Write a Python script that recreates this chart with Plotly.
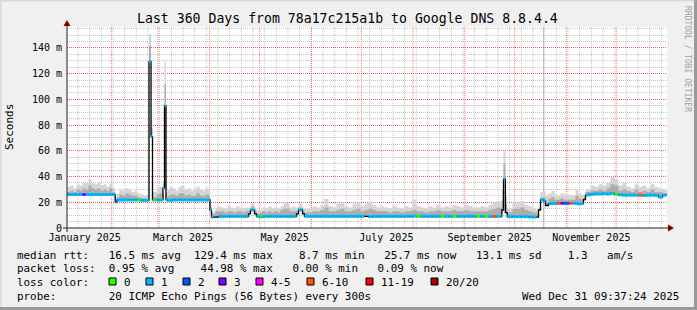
import plotly.graph_objects as go
import pandas as pd

# ---------------- data ----------------
START = "2025-01-05 09:37:24"
END = "2025-12-31 09:37:24"
Y_MAX = 156.3

# sample time in days since 2025-01-01 00:00
day = [4.4, 6.5, 8.3, 10.1, 11.9, 13.7, 15.5, 17.3, 19.1, 20.9, 22.7, 24.5, 26.3, 28.1, 29.9, 31.7,
       33.3, 34.5, 35.9, 37.7, 39.5, 41.3, 43.1, 44.9, 46.7, 48.5, 50.3, 52.1,
       53.6, 54.8, 55.7,
       56.3, 58.1, 59.9,
       62.0, 62.9, 63.8,
       64.7, 66.2, 67.7, 69.5, 71.3, 73.1, 74.9, 76.7, 78.5, 80.3, 82.1, 83.9, 85.7, 87.5, 89.3,
       90.2, 91.1,
       92.3, 93.5, 95.3, 97.1, 98.9, 100.7, 102.5, 104.3, 106.1, 107.9, 109.7, 111.5,
       113.3, 114.5, 115.7, 116.9, 118.1,
       119.9, 121.7, 123.5, 125.3, 127.1, 128.9, 130.7, 132.5, 134.3, 136.1, 137.9, 139.7, 141.0,
       142.1, 143.3, 144.5, 145.7, 146.9,
       149.3, 151.7, 154.1, 156.5, 158.9, 161.3, 163.7, 166.1, 168.5, 170.9, 173.3, 175.7, 178.1,
       180.5, 182.9, 185.3, 187.7, 190.1, 192.5, 194.9, 197.3, 199.7, 202.1, 204.5, 206.9, 209.3,
       211.7, 214.1, 216.5, 218.9, 221.3, 223.7, 226.1, 228.5, 230.9, 233.3, 235.7, 238.1, 240.5,
       242.9, 245.3, 247.7, 250.1, 252.5, 254.9, 257.3, 259.7, 262.1, 264.5,
       265.3, 266.3, 267.4,
       268.5, 271.7, 274.1, 276.5, 278.9, 281.3, 283.7, 286.1,
       287.3, 288.5, 290.3, 291.5,
       293.3, 295.1, 296.9, 298.7, 300.5, 302.3, 304.1, 305.9, 307.7, 309.5, 311.3, 313.1,
       314.3, 315.5,
       316.7, 318.5, 320.9, 323.3, 325.7, 328.1, 330.5, 332.9, 335.3, 337.7, 340.1, 342.5, 344.9,
       347.3, 349.7, 352.1, 354.5, 356.9, 359.3, 361.7, 364.1]

median_ms = [26, 26, 26, 26, 26, 26, 26, 26, 26, 26, 26, 26, 26, 26, 26, 26,
             20.5, 21.8, 21.8, 21.8, 21.8, 21.8, 21.8, 21.8, 21.8, 21.5, 21.5, 21.5,
             129.4, 71, 21.8,
             21.8, 21.8, 21.8,
             31, 95, 21.8,
             21.5, 21.5, 21.8, 21.8, 22, 21.8, 21.8, 21.8, 21.8, 21.8, 21.8, 21.8, 21.8, 21.8, 21.8,
             14, 8.5,
             8.5, 8.5, 9, 9, 9, 9, 9, 9, 9, 9, 9, 9,
             11, 14, 14, 11, 9,
             8.5, 9, 9, 9, 9, 9, 9, 9, 9, 9, 9, 9, 9,
             11, 14, 14, 11, 9,
             9, 9, 9, 9, 9, 9, 9, 9, 9, 9, 9, 9, 9,
             9, 9, 8.8, 9, 9, 9, 9, 9, 9, 9, 9, 9, 9,
             9.3, 9, 9, 9, 9, 9, 9, 9, 9, 9, 9, 9, 9,
             9, 9, 9, 9, 9, 9, 9, 9, 9, 9,
             14, 38, 12,
             8.8, 8.8, 8.8, 8.8, 8.8, 8.6, 8.5, 8.5,
             14, 21.8, 21, 17.5,
             19, 19, 19, 19.2, 19.2, 19.2, 19.2, 19.2, 19.2, 19, 18.8, 19,
             22, 25.5,
             25.8, 26.2, 26.5, 26.5, 26.8, 26.5, 27, 26.2, 25.8, 25.5, 25.5, 25.5, 25.5,
             25.5, 25.3, 25.5, 25.5, 25.3, 24.0, 25.5, 25.7]

smoke_mid_ms = [28, 29, 28, 30, 29, 31, 30, 33, 31, 30, 31, 29, 30, 29, 31, 28,
                22, 24, 26, 25, 27, 26, 25, 25, 24, 23, 23, 23,
                142, 78, 24,
                24, 26, 27,
                33, 112, 24,
                25, 26, 26, 25, 27, 27, 25, 26, 25, 25, 27, 25, 25, 26, 25,
                16, 10,
                11, 13, 13, 13, 12, 13, 13, 12, 13, 13, 12, 13,
                13, 16, 17, 13, 11,
                12, 13, 12, 13, 12, 13, 12, 14, 15, 15, 13, 13, 13,
                13, 16, 16, 13, 12,
                12, 13, 13, 14, 16, 13, 13, 14, 15, 13, 13, 14, 15,
                13, 14, 15, 14, 13, 13, 13, 12, 13, 13, 12, 13, 13,
                14, 13, 13, 12, 13, 13, 14, 13, 13, 13, 14, 13, 13,
                14, 13, 13, 13, 13, 13, 14, 15, 16, 15,
                22, 50, 18,
                12, 15, 15, 16, 14, 13, 12, 11,
                15, 24, 24, 20,
                23, 24, 22, 22, 23, 22, 22, 22, 22, 25, 23, 22,
                24, 28,
                28, 29, 29, 30, 29, 31, 34, 33, 29, 30, 29, 28, 30,
                28, 29, 28, 30, 28, 28, 27, 27]

smoke_hi_ms = [32, 33, 31, 34, 33, 36, 35, 38, 35, 34, 36, 33, 34, 32, 35, 31,
               24, 27, 30, 29, 31, 30, 28, 29, 27, 26, 25, 25,
               151, 84, 28,
               28, 31, 32,
               35, 130, 28,
               30, 32, 31, 29, 32, 33, 30, 31, 29, 30, 32, 30, 29, 31, 30,
               18, 12,
               13, 16, 17, 16, 15, 17, 16, 15, 17, 16, 15, 16,
               16, 19, 19, 16, 14,
               14, 16, 15, 17, 15, 16, 15, 17, 20, 19, 16, 17, 16,
               16, 19, 19, 16, 15,
               15, 17, 16, 18, 23, 17, 16, 19, 20, 17, 16, 19, 20,
               17, 19, 20, 18, 16, 17, 16, 15, 17, 16, 15, 17, 16,
               22, 17, 16, 15, 17, 16, 18, 16, 17, 16, 18, 17, 16,
               18, 17, 16, 16, 17, 16, 18, 20, 21, 19,
               30, 60, 25,
               15, 20, 19, 21, 18, 17, 15, 14,
               16, 28, 28, 25,
               27, 29, 26, 25, 27, 26, 25, 26, 25, 30, 27, 25,
               26, 30,
               30, 33, 32, 34, 33, 35, 40, 38, 33, 35, 32, 31, 34,
               32, 33, 31, 34, 32, 31, 30, 29]

# loss class per sample (-1 = no coloured median drawn)
loss_class = [1, 1, 1, 1, 1, 3, 1, 1, 1, 1, 1, 1, 1, 1, 1, 1,
              2, 1, 1, 1, 1, 1, 1, 1, 0, 1, 1, 1,
              1, 1, 1,
              0, 1, 1,
              1, 1, 1,
              1, 1, 1, 1, 1, 1, 1, 1, 1, 1, 1, 1, 1, 1, 1,
              1, 1,
              -1, -1, 1, 1, 1, 1, 1, 1, 1, 1, 1, 1,
              -1, 1, 1, -1, 1,
              0, 1, 1, 1, 1, 1, 1, 1, 1, 1, 1, 1, 1,
              -1, 1, 1, -1, 1,
              1, 1, 1, 1, 1, 1, 1, 1, 1, 1, 1, 1, 1,
              1, -1, 1, 1, 1, 1, 1, 1, 1, 1, 1, 1, 1,
              1, 0, 1, 1, 1, 1, 1, 0, 1, 1, 0, 1, 1,
              1, 1, 1, 0, 1, 0, 1, 10, 1, 1,
              -1, 1, -1,
              1, 1, 1, 1, 1, 1, 1, -1,
              -1, 1, 1, -1,
              1, 1, 1, 10, 3, 2, 2, 10, 1, 1, 1, 1,
              -1, 1,
              1, 1, 1, 1, 1, 1, 1, 0, 1, 1, 1, 1, 1,
              10, 1, 1, 1, 1, 1, 1, 1]

LOSS_KEYS = [0, 1, 2, 3, 5, 10, 19, 20]
LOSS_LABELS = ["0", "1", "2", "3", "4-5", "6-10", "11-19", "20/20"]
LOSS_COLORS = ["#26ff00", "#00b8ff", "#0059ff", "#7e00ff", "#ff00ff", "#ff5500", "#ff0000", "#a10000"]

month_starts = ["2025-02-01", "2025-03-01", "2025-04-01", "2025-05-01", "2025-06-01", "2025-07-01",
                "2025-08-01", "2025-09-01", "2025-10-01", "2025-11-01", "2025-12-01"]
first_week_line = "2025-01-12"
label_dates = ["2025-01-16", "2025-03-16", "2025-05-16", "2025-07-16", "2025-09-16", "2025-11-16"]
label_text = ["January 2025", "March 2025", "May 2025", "July 2025", "September 2025", "November 2025"]
ytick_vals = [0, 20, 40, 60, 80, 100, 120, 140]
ytick_text = ["0", "20 m", "40 m", "60 m", "80 m", "100 m", "120 m", "140 m"]
vrule_date = "2025-10-18 07:00"

title = "Last 360 Days from 78a17c215a1b to Google DNS 8.8.4.4"
legend_rtt = "median rtt:   16.5 ms avg  129.4 ms max    8.7 ms min   25.7 ms now   13.1 ms sd    1.3   am/s"
legend_loss = "packet loss:  0.95 % avg    44.98 % max   0.00 % min   0.09 % now"
legend_probe = "probe:        20 ICMP Echo Pings (56 Bytes) every 300s"
stamp = "Wed Dec 31 09:37:24 2025"

# ---------------- layout geometry (px) ----------------
W, H = 697, 310
PL, PR, PT, PB = 67, 667, 27, 228
MONO = "DejaVu Sans Mono"


def px(x):
    return (x - PL) / (PR - PL)


def py(y):
    return (PB - y) / (PB - PT)


base = pd.Timestamp("2025-01-01")
t = [base + pd.Timedelta(days=d) for d in day]
t_end = pd.Timestamp(END)
tx = t + [t_end]
med_x = median_ms + [median_ms[-1]]
mid_x = smoke_mid_ms + [smoke_mid_ms[-1]]
hi_x = smoke_hi_ms + [smoke_hi_ms[-1]]

fig = go.Figure()
common = dict(mode="lines", line=dict(width=0, shape="hv"), hoverinfo="skip", showlegend=False)
fig.add_trace(go.Scatter(x=tx, y=med_x, **common))
fig.add_trace(go.Scatter(x=tx, y=hi_x, fill="tonexty", fillcolor="#d5d5d5", **common))
fig.add_trace(go.Scatter(x=tx, y=med_x, **common))
fig.add_trace(go.Scatter(x=tx, y=mid_x, fill="tonexty", fillcolor="#adadad", **common))
fig.add_trace(go.Scatter(x=tx, y=med_x, mode="lines", line=dict(width=1.3, color="#000000", shape="hv"),
                         hoverinfo="skip", showlegend=False))

for key, col in zip(LOSS_KEYS, LOSS_COLORS):
    xs, ys = [], []
    for i, c in enumerate(loss_class):
        if c == key:
            xs += [tx[i], tx[i + 1], None]
            ys += [median_ms[i], median_ms[i], None]
    if xs:
        fig.add_trace(go.Scatter(x=xs, y=ys, mode="lines", line=dict(width=3, color=col),
                                 hoverinfo="skip", showlegend=False))

red = "rgba(255,0,0,0.5)"
gray = "rgba(110,110,110,0.40)"
fig.update_layout(
    width=W, height=H,
    margin=dict(l=PL, r=W - PR, t=PT, b=H - PB),
    paper_bgcolor="#f0f0f0", plot_bgcolor="#ffffff",
    xaxis=dict(type="date", range=[START, END], tickmode="array", tickvals=label_dates, ticktext=label_text,
               showgrid=False, zeroline=False, showline=False, ticks="", ticklabelstandoff=2,
               tickfont=dict(family=MONO, size=10, color="#000")),
    yaxis=dict(range=[0, Y_MAX], tickmode="array", tickvals=ytick_vals, ticktext=ytick_text,
               showgrid=True, gridcolor=red, griddash="1px,1px", gridwidth=1,
               zeroline=False, showline=False, ticks="", ticklabelstandoff=4,
               tickfont=dict(family=MONO, size=10, color="#000"),
               minor=dict(dtick=5, tick0=0, showgrid=True, gridcolor=gray, griddash="1px,1px", ticks="")),
)

shapes = []
# vertical grid: weekly (gray) and month starts (red)
week_lines = pd.date_range(first_week_line, END, freq="7D")
for w in week_lines:
    shapes.append(dict(type="line", xref="x", yref="paper", x0=w, x1=w, y0=0, y1=1,
                       line=dict(color=gray, width=1, dash="1px,1px"), layer="below"))
for m in month_starts:
    shapes.append(dict(type="line", xref="x", yref="paper", x0=m, x1=m, y0=0, y1=1,
                       line=dict(color=red, width=1, dash="1px,1px"), layer="below"))
# VRULE
shapes.append(dict(type="line", xref="x", yref="paper", x0=vrule_date, x1=vrule_date, y0=0, y1=1,
                   line=dict(color="#c4c4c4", width=1), layer="below"))
# axes
shapes.append(dict(type="line", xref="paper", yref="paper", x0=px(63), x1=px(670), y0=py(228), y1=py(228),
                   line=dict(color="#222", width=1), layer="above"))
shapes.append(dict(type="line", xref="paper", yref="paper", x0=px(67), x1=px(67), y0=py(232), y1=py(24),
                   line=dict(color="#222", width=1), layer="above"))
shapes.append(dict(type="path", xref="paper", yref="paper",
                   path=f"M {px(668)} {py(224.5)} L {px(668)} {py(231.5)} L {px(674)} {py(228)} Z",
                   fillcolor="#7f0000", line=dict(width=0), layer="above"))
shapes.append(dict(type="path", xref="paper", yref="paper",
                   path=f"M {px(63.5)} {py(26)} L {px(70.5)} {py(26)} L {px(67)} {py(20)} Z",
                   fillcolor="#7f0000", line=dict(width=0), layer="above"))
# frame
shapes.append(dict(type="rect", xref="paper", yref="paper", x0=px(0), x1=px(697), y0=py(0), y1=py(1.5),
                   fillcolor="#d8d8d8", line=dict(width=0)))
shapes.append(dict(type="rect", xref="paper", yref="paper", x0=px(0), x1=px(1.5), y0=py(0), y1=py(310),
                   fillcolor="#d8d8d8", line=dict(width=0)))
shapes.append(dict(type="rect", xref="paper", yref="paper", x0=px(0), x1=px(697), y0=py(307), y1=py(310),
                   fillcolor="#9a9a9a", line=dict(width=0)))
shapes.append(dict(type="rect", xref="paper", yref="paper", x0=px(694), x1=px(697), y0=py(0), y1=py(310),
                   fillcolor="#9a9a9a", line=dict(width=0)))

# loss colour legend squares
sq_left = [109, 146, 183, 219, 256, 307, 366, 431]
lab_left = [123, 160, 197, 233, 270, 321, 380, 445]
for xl, col in zip(sq_left, LOSS_COLORS):
    shapes.append(dict(type="rect", xref="paper", yref="paper", x0=px(xl), x1=px(xl + 7),
                       y0=py(278), y1=py(285), fillcolor=col, line=dict(color="#000", width=1)))
fig.update_layout(shapes=shapes)

ann = []


def text(s, x, y, size=10.9, anchor="left", color="#000", angle=0):
    ann.append(dict(text=s, x=px(x), y=py(y), xref="paper", yref="paper", xanchor=anchor, yanchor="middle",
                    showarrow=False, borderpad=0, textangle=angle,
                    font=dict(family=MONO, size=size, color=color)))


text(title, 347, 19, size=13.2, anchor="center")
text("Seconds", 10, 127, size=11, anchor="center", angle=-90)
text("RRDTOOL / TOBI OETIKER", 688, 59, size=8, anchor="center", color="#a0a0a0", angle=90)
text(legend_rtt.replace(" ", "&nbsp;"), 16, 255)
text(legend_loss.replace(" ", "&nbsp;"), 16, 268.5)
text("loss&nbsp;color:", 16, 282)
for xl, lab in zip(lab_left, LOSS_LABELS):
    text(lab, xl, 282)
text(legend_probe.replace(" ", "&nbsp;"), 16, 296)
text(stamp.replace(" ", "&nbsp;"), 680, 296, anchor="right")
fig.update_layout(annotations=ann)

fig.write_html("out.html")
